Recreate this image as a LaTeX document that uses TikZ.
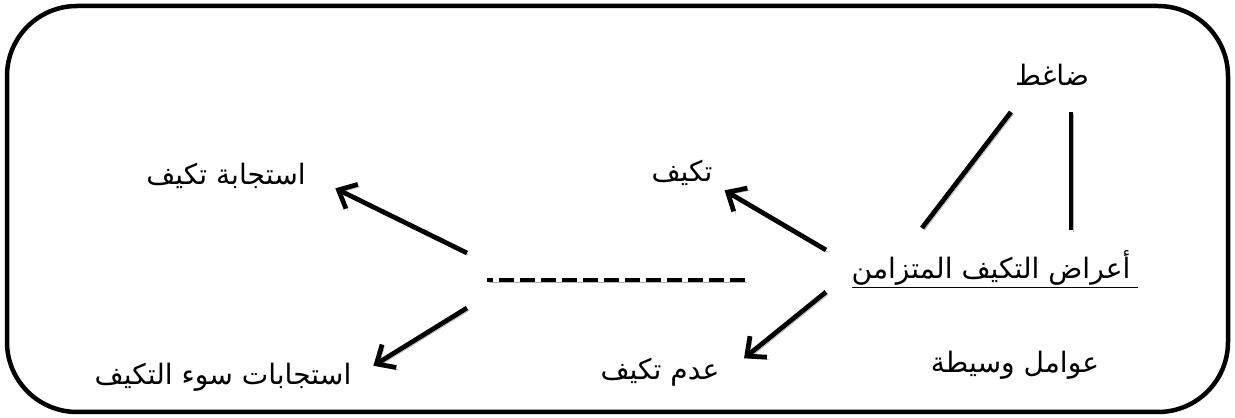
\documentclass[tikz,border=0pt]{standalone}
\usepackage{fontspec}
\usetikzlibrary{arrows.meta}
\TeXXeTstate=1
\newfontfamily\arabicfont[Script=Arabic]{DejaVu Sans}
\newcommand{\ar}[1]{\arabicfont\beginR #1\endR}

\begin{document}
\begin{tikzpicture}[
  x=0.2mm, y=-0.2mm,
  every node/.style={font=\fontsize{16}{20}\selectfont, inner sep=1pt},
  shade line/.style={line width=0.95mm, preaction={draw=gray!60, transform canvas={xshift=0.45mm, yshift=-0.45mm}}},
  arr/.style={shade line, -{Straight Barb[length=3mm, width=5.4mm]}},
  dash line/.style={shade line, dash pattern=on 3mm off 1.2mm}
]
\useasboundingbox (0,0) rectangle (1235,418);
\draw[line width=0.9mm, rounded corners=14mm] (7,6) rectangle (1228,412);

% the texts
\node (stress) at (1052,75) {\ar{ضاغط}};
\node (symptoms) at (991,268) {\ar{أعراض التكيف المتزامن}};
\node (mediators) at (1015,365) {\ar{عوامل وسيطة}};
\node (adapt) at (682,173) {\ar{تكيف}};
\node (nonadapt) at (660,372) {\ar{عدم تكيف}};
\node (response) at (226,176) {\ar{استجابة تكيف}};
\node (malresp) at (223,377) {\ar{استجابات سوء التكيف}};
\draw[line width=0.35mm] ([xshift=0.5mm]symptoms.south west) -- ([xshift=1.2mm]symptoms.south east);

% ends of the links
\coordinate (s1) at (1011,112);
\coordinate (s2) at (922,228);
\coordinate (v1) at (1071,112);
\coordinate (v2) at (1071,230);
\coordinate (a1) at (826,250);
\coordinate (a2) at (826,292);
\coordinate (dr) at (745,280);
\coordinate (dl) at (487,280);
\coordinate (b1) at (467,253);
\coordinate (b2) at (467,308);

\draw[shade line] (s1) -- (s2);
\draw[shade line] (v1) -- (v2);
\draw[arr] (a1) -- ([shift={(2mm,-0.5mm)}]adapt.south east);
\draw[arr] (a2) -- ([shift={(4.5mm,-0.5mm)}]nonadapt.north east);
\draw[dash line] (dr) -- (dl);
\draw[arr] (b1) -- ([shift={(5.5mm,0.5mm)}]response.south east);
\draw[arr] (b2) -- ([shift={(4mm,-1mm)}]malresp.north east);
\end{tikzpicture}
\end{document}
